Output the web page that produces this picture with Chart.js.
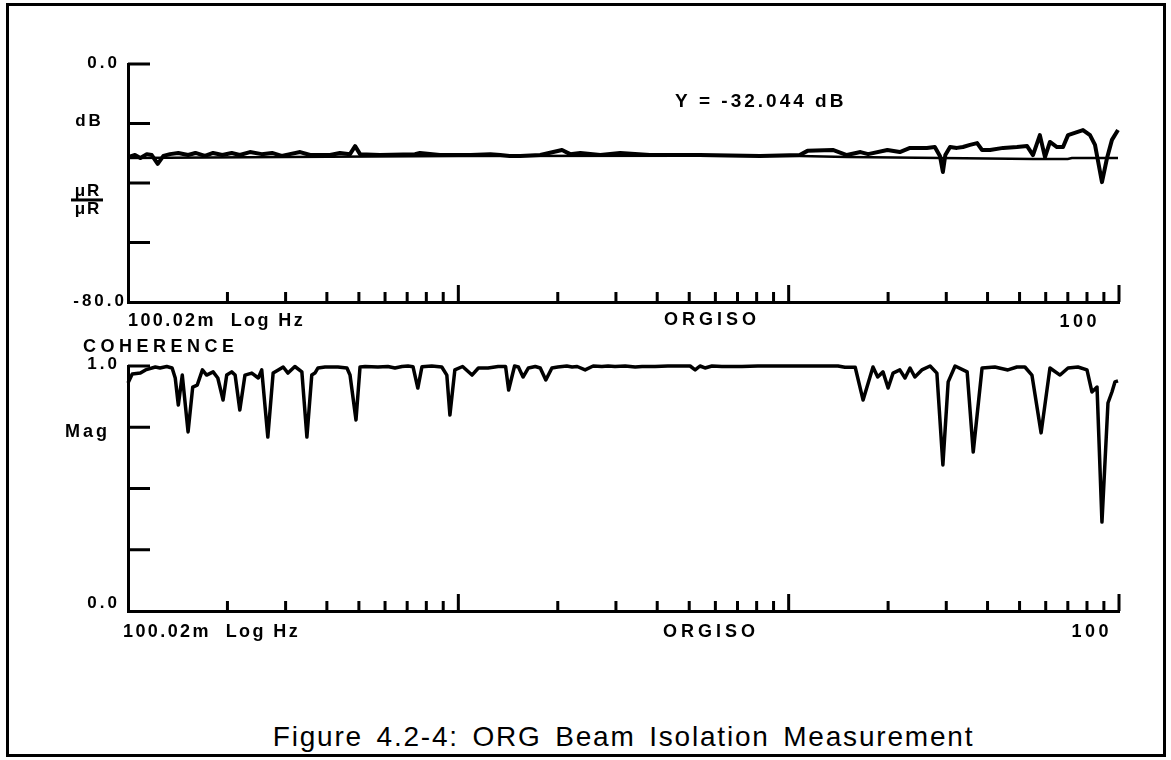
<!DOCTYPE html>
<html>
<head>
<meta charset="utf-8">
<script src="https://cdn.jsdelivr.net/npm/chart.js@4.4.0/dist/chart.umd.min.js"></script>
<style>
    body { margin: 0; width: 1171px; height: 760px; background: #fff; position: relative; overflow: hidden; font-family: "Liberation Sans", Arial, sans-serif; }
    #marco { position: absolute; left: 6px; top: 3px; width: 1160px; height: 754px; border: 3px solid #000; box-sizing: border-box; }
    canvas { position: absolute; left: 0; }
    #chart-iso { top: 0; }
    #chart-coh { top: 330px; }
    #pie { position: absolute; left: 128px; width: 991px; top: 723px; text-align: center; font-size: 28px; line-height: 28px; letter-spacing: 1.8px; word-spacing: 4px; color: #000; }
</style>
</head>
<body>
<div id="marco"></div>
<canvas id="chart-iso" width="1171" height="340"></canvas>
<canvas id="chart-coh" width="1171" height="320"></canvas>
<div id="pie">Figure 4.2-4: ORG Beam Isolation Measurement</div>

<script>
var isoFreq = [0.1, 0.105, 0.109, 0.114, 0.118, 0.123, 0.128, 0.134, 0.142, 0.152,
    0.160, 0.171, 0.181, 0.193, 0.206, 0.218, 0.234, 0.254, 0.273, 0.292,
    0.309, 0.332, 0.356, 0.409, 0.438, 0.470, 0.487, 0.504, 0.579, 0.739,
    0.765, 0.879, 1.09, 1.25, 1.34, 1.43, 1.54, 1.77, 2.06, 2.18,
    2.34, 2.69, 3.09, 3.80, 5.39, 8.19, 10.8, 11.4, 13.6, 15.0,
    16.5, 17.4, 19.9, 21.7, 23.3, 26.2, 27.7, 28.7, 29.3, 29.8,
    30.8, 32.3, 33.7, 35.4, 37.2, 38.5, 40.7, 44.6, 49.1, 52.7,
    54.9, 57.6, 59.7, 61.8, 64.9, 67.7, 70.1, 74.6, 77.8, 81.7,
    84.6, 88.8, 92.0, 95.2, 99.3];
var isoMeas = [-31.3, -30.6, -31.6, -30.3, -30.6, -33.6, -30.9, -30.3, -29.9, -30.6,
    -29.9, -30.9, -29.9, -30.6, -29.9, -30.6, -29.6, -30.3, -29.9, -30.9,
    -30.3, -29.6, -30.6, -30.6, -29.9, -30.3, -27.6, -30.3, -30.6, -30.3,
    -29.9, -30.6, -30.6, -30.3, -30.6, -30.9, -30.9, -30.6, -28.9, -30.3,
    -29.9, -30.6, -29.9, -30.6, -30.6, -30.9, -30.6, -29.2, -28.9, -30.6,
    -29.6, -30.3, -28.9, -29.6, -28.2, -28.2, -27.9, -30.9, -36.3, -30.6,
    -27.9, -28.2, -27.9, -27.2, -26.6, -28.9, -28.9, -28.2, -27.9, -27.6,
    -30.6, -23.9, -31.3, -26.2, -27.9, -27.9, -23.9, -22.9, -22.2, -23.9,
    -27.2, -39.7, -31.6, -25.5, -22.2];

// traza de referencia (linea fina)
var refFreq = [0.1, 0.3, 1.0, 5.0, 10.8, 15.0, 29.0, 54.9, 70.0, 72.0, 99.3];
var refLevel = [-31.6, -31.3, -30.9, -30.8, -30.9, -31.3, -31.6, -31.9, -31.9, -31.6, -31.6];

// coherencia
var cohFreq = [0.1, 0.103, 0.109, 0.113, 0.121, 0.125, 0.131, 0.136, 0.139, 0.142,
    0.146, 0.152, 0.157, 0.162, 0.168, 0.173, 0.181, 0.187, 0.194, 0.199,
    0.206, 0.211, 0.218, 0.226, 0.237, 0.248, 0.254, 0.265, 0.275, 0.285,
    0.295, 0.305, 0.320, 0.336, 0.348, 0.360, 0.368, 0.376, 0.395, 0.432,
    0.460, 0.470, 0.490, 0.504, 0.522, 0.571, 0.612, 0.643, 0.675, 0.704,
    0.729, 0.754, 0.776, 0.831, 0.891, 0.923, 0.943, 0.976, 1.03, 1.10,
    1.15, 1.23, 1.32, 1.39, 1.42, 1.48, 1.52, 1.57, 1.63, 1.71,
    1.77, 1.84, 1.92, 2.00, 2.13, 2.21, 2.29, 2.42, 2.56, 2.72,
    2.84, 2.98, 3.20, 3.43, 3.60, 3.94, 4.31, 4.75, 5.03, 5.21,
    5.39, 5.58, 5.86, 6.28, 7.22, 8.07, 8.90, 9.75, 11.2, 14.1,
    14.8, 15.9, 16.8, 18.0, 18.6, 19.3, 20.0, 20.7, 21.7, 22.5,
    23.3, 24.1, 25.3, 26.8, 28.1, 29.3, 30.4, 31.9, 34.7, 36.2,
    38.5, 42.1, 46.1, 49.1, 51.9, 54.5, 58.1, 61.8, 66.3, 70.1,
    75.1, 80.0, 82.8, 85.8, 88.8, 92.6, 95.2, 97.2, 99.3];
var cohMag = [0.931, 0.967, 0.971, 0.984, 0.996, 0.992, 0.998, 0.992, 0.951, 0.841,
    0.963, 0.731, 0.914, 0.922, 0.984, 0.963, 0.976, 0.951, 0.861, 0.963,
    0.976, 0.963, 0.820, 0.963, 0.971, 0.951, 0.984, 0.710, 0.971, 0.984,
    0.996, 0.971, 0.998, 0.976, 0.710, 0.963, 0.971, 0.992, 0.996, 0.996,
    0.992, 0.963, 0.780, 0.996, 0.998, 0.996, 0.998, 0.992, 0.998, 1.0,
    0.997, 0.910, 0.997, 1.0, 0.996, 0.963, 0.800, 0.984, 0.998, 0.963,
    0.992, 0.992, 0.998, 0.998, 0.902, 1.0, 0.996, 0.955, 0.992, 0.998,
    0.992, 0.943, 0.992, 0.996, 1.0, 0.996, 0.998, 0.984, 1.0, 0.998,
    1.0, 0.998, 1.0, 0.996, 0.998, 0.998, 1.0, 1.0, 1.0, 0.984,
    1.0, 0.992, 1.0, 0.998, 0.998, 1.0, 1.0, 1.0, 1.0, 1.0,
    0.995, 0.995, 0.861, 0.996, 0.955, 0.976, 0.910, 0.971, 0.984, 0.951,
    0.992, 0.955, 0.984, 1.0, 0.971, 0.596, 0.935, 1.0, 0.976, 0.649,
    0.992, 0.996, 0.984, 0.996, 0.996, 0.963, 0.727, 0.992, 0.963, 0.992,
    0.996, 0.984, 0.894, 0.914, 0.363, 0.849, 0.894, 0.935, 0.939];

var dbTicks = [0, -20, -40, -60, -80];
var magTicks = [1, 0.75, 0.5, 0.25, 0];
var freqTicks = [0.2, 0.3, 0.4, 0.5, 0.6, 0.7, 0.8, 0.9, 1,
    2, 3, 4, 5, 6, 7, 8, 9, 10,
    20, 30, 40, 50, 60, 70, 80, 90, 100];
var freqMayores = [1, 10, 100];

var FUENTE = '"Liberation Sans", Arial, sans-serif';

function pares(xs, ys) {
    return xs.map(function (f, i) {
        return { x: f, y: ys[i] };
    });
}

function texto(ctx, s, x, y, align, size, spacing) {
    spacing = spacing || 0;
    ctx.font = 'bold ' + size + 'px ' + FUENTE;
    ctx.letterSpacing = spacing + 'px';
    ctx.textAlign = align;
    ctx.textBaseline = 'alphabetic';
    ctx.fillStyle = '#000';
    // el espaciado deja un hueco al final, se compensa
    if (align === 'right') x += spacing;
    if (align === 'center') x += spacing / 2;
    ctx.fillText(s, x, y);
}

// marcas de los ejes, hacia adentro como en el analizador
var marcasPlugin = {
    id: 'marcas',
    afterDraw: function (chart) {
        var ctx = chart.ctx;
        var xs = chart.scales.x;
        var ys = chart.scales.y;
        ctx.save();
        ctx.strokeStyle = '#000';
        ctx.lineWidth = 3;
        ctx.beginPath();
        xs.ticks.forEach(function (t) {
            var px = xs.getPixelForValue(t.value);
            var largo = freqMayores.indexOf(t.value) >= 0 ? 17 : 10;
            ctx.moveTo(px, xs.top);
            ctx.lineTo(px, xs.top - largo);
        });
        ys.ticks.forEach(function (t, i) {
            if (i === ys.ticks.length - 1) return;
            var py = ys.getPixelForValue(t.value);
            ctx.moveTo(ys.right, py);
            ctx.lineTo(ys.right + 22, py);
        });
        ctx.stroke();
        ctx.restore();
    }
};

function escalas(yMin, yMax, yTicks) {
    return {
        x: {
            type: 'logarithmic',
            min: 0.1,
            max: 100,
            afterBuildTicks: function (scale) {
                scale.ticks = freqTicks.map(function (v) { return { value: v }; });
            },
            ticks: { display: false },
            grid: { display: false, drawTicks: false },
            border: { display: true, color: '#000', width: 3 }
        },
        y: {
            type: 'linear',
            min: yMin,
            max: yMax,
            afterBuildTicks: function (scale) {
                scale.ticks = yTicks.map(function (v) { return { value: v }; });
            },
            ticks: { display: false },
            grid: { display: false, drawTicks: false },
            border: { display: true, color: '#000', width: 3 }
        }
    };
}

var etiquetasIso = {
    id: 'etiquetasIso',
    afterDraw: function (chart) {
        var ctx = chart.ctx;
        var xs = chart.scales.x;
        var ys = chart.scales.y;
        ctx.save();
        texto(ctx, '0.0', 117, ys.getPixelForValue(0) + 4, 'right', 17, 3);
        texto(ctx, 'dB', 88, ys.getPixelForValue(-20) + 2, 'center', 17, 3);
        var yf = ys.getPixelForValue(-45.7);
        texto(ctx, '\u03bcR', 87, yf - 4, 'center', 17, 2);
        texto(ctx, '\u03bcR', 87, yf + 14, 'center', 17, 2);
        ctx.fillRect(71, yf - 1.5, 32, 3);
        texto(ctx, '-80.0', 124, ys.getPixelForValue(-80) + 4, 'right', 17, 3);
        texto(ctx, '100.02m  Log Hz', xs.left, xs.top + 24, 'left', 18, 2.4);
        texto(ctx, 'ORGISO', 710, xs.top + 23, 'center', 18, 4);
        texto(ctx, '100', 1078, xs.top + 25, 'center', 18, 3.5);
        texto(ctx, 'Y = -32.044 dB', 675, 107, 'left', 19, 3);
        ctx.restore();
    }
};

var etiquetasCoh = {
    id: 'etiquetasCoh',
    afterDraw: function (chart) {
        var ctx = chart.ctx;
        var xs = chart.scales.x;
        var ys = chart.scales.y;
        ctx.save();
        texto(ctx, 'COHERENCE', 83, ys.getPixelForValue(1) - 14, 'left', 18, 4.5);
        texto(ctx, '1.0', 117, ys.getPixelForValue(1) + 3, 'right', 17, 3);
        texto(ctx, 'Mag', 107, ys.getPixelForValue(0.75) + 10, 'right', 18, 3);
        texto(ctx, '0.0', 117, ys.getPixelForValue(0) - 3, 'right', 17, 3);
        texto(ctx, '100.02m  Log Hz', xs.left - 5, xs.top + 26, 'left', 18, 2.4);
        texto(ctx, 'ORGISO', 709, xs.top + 26, 'center', 18, 4);
        texto(ctx, '100', 1090, xs.top + 26, 'center', 18, 3.5);
        ctx.restore();
    }
};

var comunes = {
    responsive: false,
    animation: false,
    events: [],
    plugins: { legend: { display: false }, tooltip: { enabled: false } }
};

new Chart(document.getElementById('chart-iso'), {
    type: 'line',
    data: {
        datasets: [{
            data: pares(refFreq, refLevel),
            borderColor: '#000',
            borderWidth: 2.5,
            pointRadius: 0,
            tension: 0,
            clip: false
        }, {
            data: pares(isoFreq, isoMeas),
            borderColor: '#000',
            borderWidth: 4,
            borderJoinStyle: 'round',
            pointRadius: 0,
            tension: 0,
            clip: false
        }]
    },
    options: Object.assign({}, comunes, {
        layout: { padding: { left: 128, right: 52, top: 64, bottom: 38 } },
        scales: escalas(-80, 0, dbTicks)
    }),
    plugins: [marcasPlugin, etiquetasIso]
});

new Chart(document.getElementById('chart-coh'), {
    type: 'line',
    data: {
        datasets: [{
            data: pares(cohFreq, cohMag),
            borderColor: '#000',
            borderWidth: 3.5,
            borderJoinStyle: 'round',
            pointRadius: 0,
            tension: 0,
            clip: false
        }]
    },
    options: Object.assign({}, comunes, {
        layout: { padding: { left: 128, right: 52, top: 36, bottom: 39 } },
        scales: escalas(0, 1, magTicks)
    }),
    plugins: [marcasPlugin, etiquetasCoh]
});
</script>
</body>
</html>
